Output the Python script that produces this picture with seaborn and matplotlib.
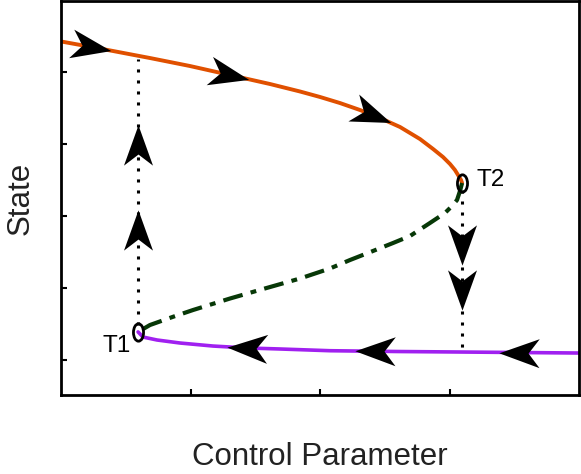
import numpy as np
import matplotlib.pyplot as plt
from matplotlib.markers import MarkerStyle
from matplotlib.path import Path
from matplotlib.transforms import Affine2D
import seaborn as sns

# tipping points
t1 = (0.595, 1.39)
t2 = (3.097, 3.458)

# branches of the S-shaped curve (control parameter, state)
upper_x = [0.0, 0.301, 0.687, 0.996, 1.305, 1.614, 1.846, 2.000, 2.154, 2.309,
           2.463, 2.618, 2.772, 2.873, 2.950, 3.004, 3.042, 3.066, 3.089, 3.097]
upper_y = [5.424, 5.326, 5.194, 5.083, 4.958, 4.833, 4.729, 4.653, 4.569, 4.472,
           4.361, 4.236, 4.069, 3.931, 3.819, 3.722, 3.639, 3.569, 3.500, 3.458]

middle_x = [3.097, 3.081, 3.058, 3.012, 2.965, 2.849, 2.695, 2.564, 2.409, 2.232,
            2.077, 1.846, 1.560, 1.305, 1.019, 0.865, 0.687, 0.595]
middle_y = [3.458, 3.347, 3.222, 3.125, 3.042, 2.903, 2.722, 2.625, 2.514, 2.389,
            2.271, 2.132, 1.986, 1.854, 1.694, 1.600, 1.486, 1.39]

lower_x = [0.595, 0.633, 0.741, 0.919, 1.174, 1.436, 1.691, 2.077, 2.595, 3.081, 4.0]
lower_y = [1.39, 1.319, 1.278, 1.236, 1.194, 1.167, 1.153, 1.129, 1.118, 1.111, 1.097]

# arrow positions
upper_arrows_x = [0.232, 1.297, 2.402]
lower_arrows_x = [1.436, 2.425, 3.537]
jump_up_y = [3.986, 2.806]
jump_down_y = [2.597, 1.972]

orange = "#E05000"
green = "#073807"
purple = "#A020F0"

sns.set_style("ticks")
plt.rcParams["font.family"] = ["Liberation Sans", "DejaVu Sans"]

fig = plt.figure(figsize=(5.81, 4.74), dpi=100)
ax = fig.add_axes([61 / 581, 79 / 474, 518 / 581, 394 / 474])
ax.set_xlim(0, 4)
ax.set_ylim(0.514, 5.986)


def branch_y(xs, ys, x0):
    xs, ys = np.asarray(xs), np.asarray(ys)
    order = np.argsort(xs)
    return np.interp(x0, xs[order], ys[order])


# dotted jumps
y_top = branch_y(upper_x, upper_y, t1[0])
y_bot = branch_y(lower_x, lower_y, t2[0])
ax.plot([t1[0], t1[0]], [t1[1] + 0.1, y_top - 0.05], color="black",
        lw=2.2, linestyle=(0, (1, 2.6)), zorder=1)
ax.plot([t2[0], t2[0]], [t2[1] - 0.1, y_bot + 0.04], color="black",
        lw=2.2, linestyle=(0, (1, 2.6)), zorder=1)

sns.lineplot(x=upper_x, y=upper_y, sort=False, estimator=None, color=orange,
             lw=2.8, ax=ax, zorder=2)
sns.lineplot(x=middle_x, y=middle_y, sort=False, estimator=None, color=green,
             lw=3, linestyle=(0, (4.8, 2.0, 1.4, 2.0)), ax=ax, zorder=2)
sns.lineplot(x=lower_x, y=lower_y, sort=False, estimator=None, color=purple,
             lw=2.6, ax=ax, zorder=2)

# stealth arrow head
stealth = Path([(1, 0), (-1, 0.72), (-0.45, 0), (-1, -0.72), (1, 0)],
               [Path.MOVETO, Path.LINETO, Path.LINETO, Path.LINETO, Path.CLOSEPOLY])


def draw_arrow(x, y, angle):
    m = MarkerStyle(stealth, transform=Affine2D().rotate_deg(angle))
    ax.plot([x], [y], marker=m, markersize=29, color="black",
            markeredgewidth=0, linestyle="none", zorder=4)


def tangent_angle(xs, ys, x0, flip=False):
    d = 0.03
    p0 = ax.transData.transform((x0 - d, branch_y(xs, ys, x0 - d)))
    p1 = ax.transData.transform((x0 + d, branch_y(xs, ys, x0 + d)))
    a = np.degrees(np.arctan2(p1[1] - p0[1], p1[0] - p0[0]))
    return a + 180 if flip else a


for xa in upper_arrows_x:
    draw_arrow(xa, branch_y(upper_x, upper_y, xa), tangent_angle(upper_x, upper_y, xa))
for xa in lower_arrows_x:
    draw_arrow(xa, branch_y(lower_x, lower_y, xa),
               tangent_angle(lower_x, lower_y, xa, flip=True))
for ya in jump_up_y:
    draw_arrow(t1[0], ya, 90)
for ya in jump_down_y:
    draw_arrow(t2[0], ya, -90)

# tipping point markers
ellipse = Path.unit_circle().transformed(Affine2D().scale(0.58, 1.0))
for px, py in (t1, t2):
    ax.plot([px], [py], marker=MarkerStyle(ellipse), markersize=12.5,
            markerfacecolor="none", markeredgecolor="black",
            markeredgewidth=2.0, linestyle="none", zorder=5)

ax.text(t1[0] - 0.06, t1[1] - 0.19, "T1", fontsize=17.5, ha="right", va="center",
        color="black")
ax.text(t2[0] + 0.11, t2[1] + 0.04, "T2", fontsize=17.5, ha="left", va="center",
        color="black")

ax.set_xticks([1, 2, 3])
ax.set_yticks([1, 2, 3, 4, 5])
ax.set_xticklabels([])
ax.set_yticklabels([])
ax.tick_params(direction="in", length=4, width=1.5, color="black")
for s in ax.spines.values():
    s.set_visible(True)
    s.set_linewidth(2.0)
    s.set_color("black")

ax.set_xlabel("Control Parameter", fontsize=22.5, labelpad=30, color="#222222")
ax.set_ylabel("State", fontsize=22.5, labelpad=15, color="#222222")

fig.savefig("out.png", dpi=100)
